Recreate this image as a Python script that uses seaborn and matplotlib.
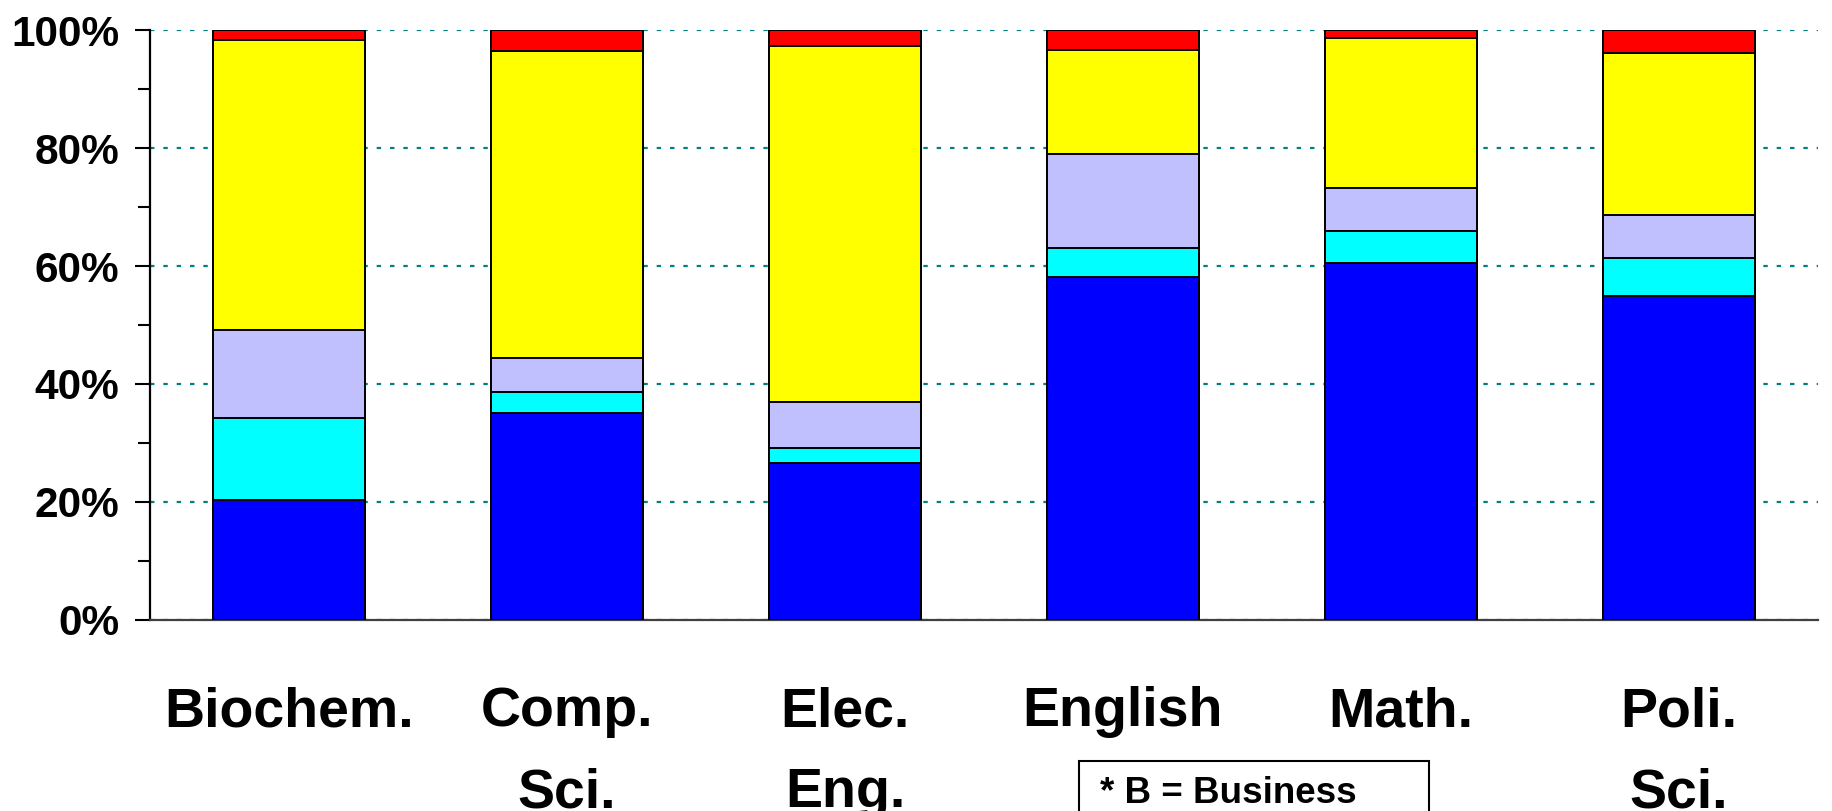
import matplotlib
matplotlib.use("Agg")
import matplotlib.pyplot as plt
from matplotlib.patches import Rectangle
from matplotlib.ticker import MultipleLocator, FuncFormatter
import numpy as np
import seaborn as sns

# Departments and the share (%) of each outcome group, bottom to top
departments = ["Biochem.", "Comp.\nSci.", "Elec.\nEng.", "English", "Math.", "Poli.\nSci."]
group_1 = [20.3, 35.0, 26.5, 58.2, 60.5, 55.0]
group_2 = [14.0, 3.6, 2.6, 4.9, 5.5, 6.4]
group_3 = [14.8, 5.8, 7.8, 16.0, 7.3, 7.3]
group_4 = [49.3, 52.1, 60.5, 17.6, 25.4, 27.4]
group_5 = [1.6, 3.5, 2.6, 3.3, 1.3, 3.9]

groups = [group_1, group_2, group_3, group_4, group_5]
colors = ["#0000FF", "#00FFFF", "#C0C0FF", "#FFFF00", "#FF0000"]
note_text = "* B = Business"

sns.set_style("ticks")
plt.rcParams["font.family"] = ["Liberation Sans", "DejaVu Sans"]
plt.rcParams["font.weight"] = "bold"
plt.rcParams["text.color"] = "black"
plt.rcParams["xtick.color"] = "black"
plt.rcParams["ytick.color"] = "black"
plt.rcParams["xtick.labelcolor"] = "black"
plt.rcParams["ytick.labelcolor"] = "black"

W, H = 1833, 811
fig = plt.figure(figsize=(W / 100, H / 100), dpi=100)
ax = fig.add_axes([150 / W, (H - 619.6) / H, (1818 - 150) / W, (619.6 - 30.4) / H])

# Stacked bars: draw the cumulative totals from the top layer down
cum = np.cumsum(np.array(groups), axis=0)
for level in range(len(groups) - 1, -1, -1):
    sns.barplot(x=departments, y=cum[level], color=colors[level], saturation=1,
                width=0.55, edgecolor="black", linewidth=1.4, ax=ax, zorder=3)

ax.set_xlim(-0.5, 5.5)
ax.set_ylim(0, 100)
ax.yaxis.set_major_locator(MultipleLocator(20))
ax.yaxis.set_minor_locator(MultipleLocator(10))
ax.yaxis.set_major_formatter(FuncFormatter(lambda v, p: f"{v:.0f}%"))

ax.yaxis.grid(True, which="major", color="#008080", linestyle=(0, (2, 4)), linewidth=1.6)
ax.set_axisbelow(True)

for s in ("top", "right"):
    ax.spines[s].set_visible(False)
ax.spines["left"].set_color("black")
ax.spines["left"].set_linewidth(1.6)
ax.spines["bottom"].set_color("#404040")
ax.spines["bottom"].set_linewidth(1.6)

ax.tick_params(axis="y", which="major", length=11, width=1.5, color="black",
               labelsize=30.5, pad=11, labelcolor="black")
ax.tick_params(axis="y", which="minor", length=9, width=1.5, color="black")
ax.tick_params(axis="x", length=0, labelsize=40, pad=48, labelcolor="black")
for lab in ax.get_xticklabels():
    lab.set_fontweight("bold")
    lab.set_linespacing(1.72)
    lab.set_verticalalignment("top")
for lab in ax.get_yticklabels():
    lab.set_fontweight("bold")
ax.set_xlabel("")
ax.set_ylabel("")

# Note box under the chart
fig.patches.append(Rectangle((1079 / W, -0.1), (1429 - 1079) / W, (811 - 761) / H + 0.1,
                             transform=fig.transFigure, facecolor="white",
                             edgecolor="black", linewidth=1.5))
fig.text(1100 / W, (H - 803) / H, note_text, fontsize=26.5, fontweight="bold",
         ha="left", va="baseline", color="black")

fig.savefig("out.png", dpi=100)
